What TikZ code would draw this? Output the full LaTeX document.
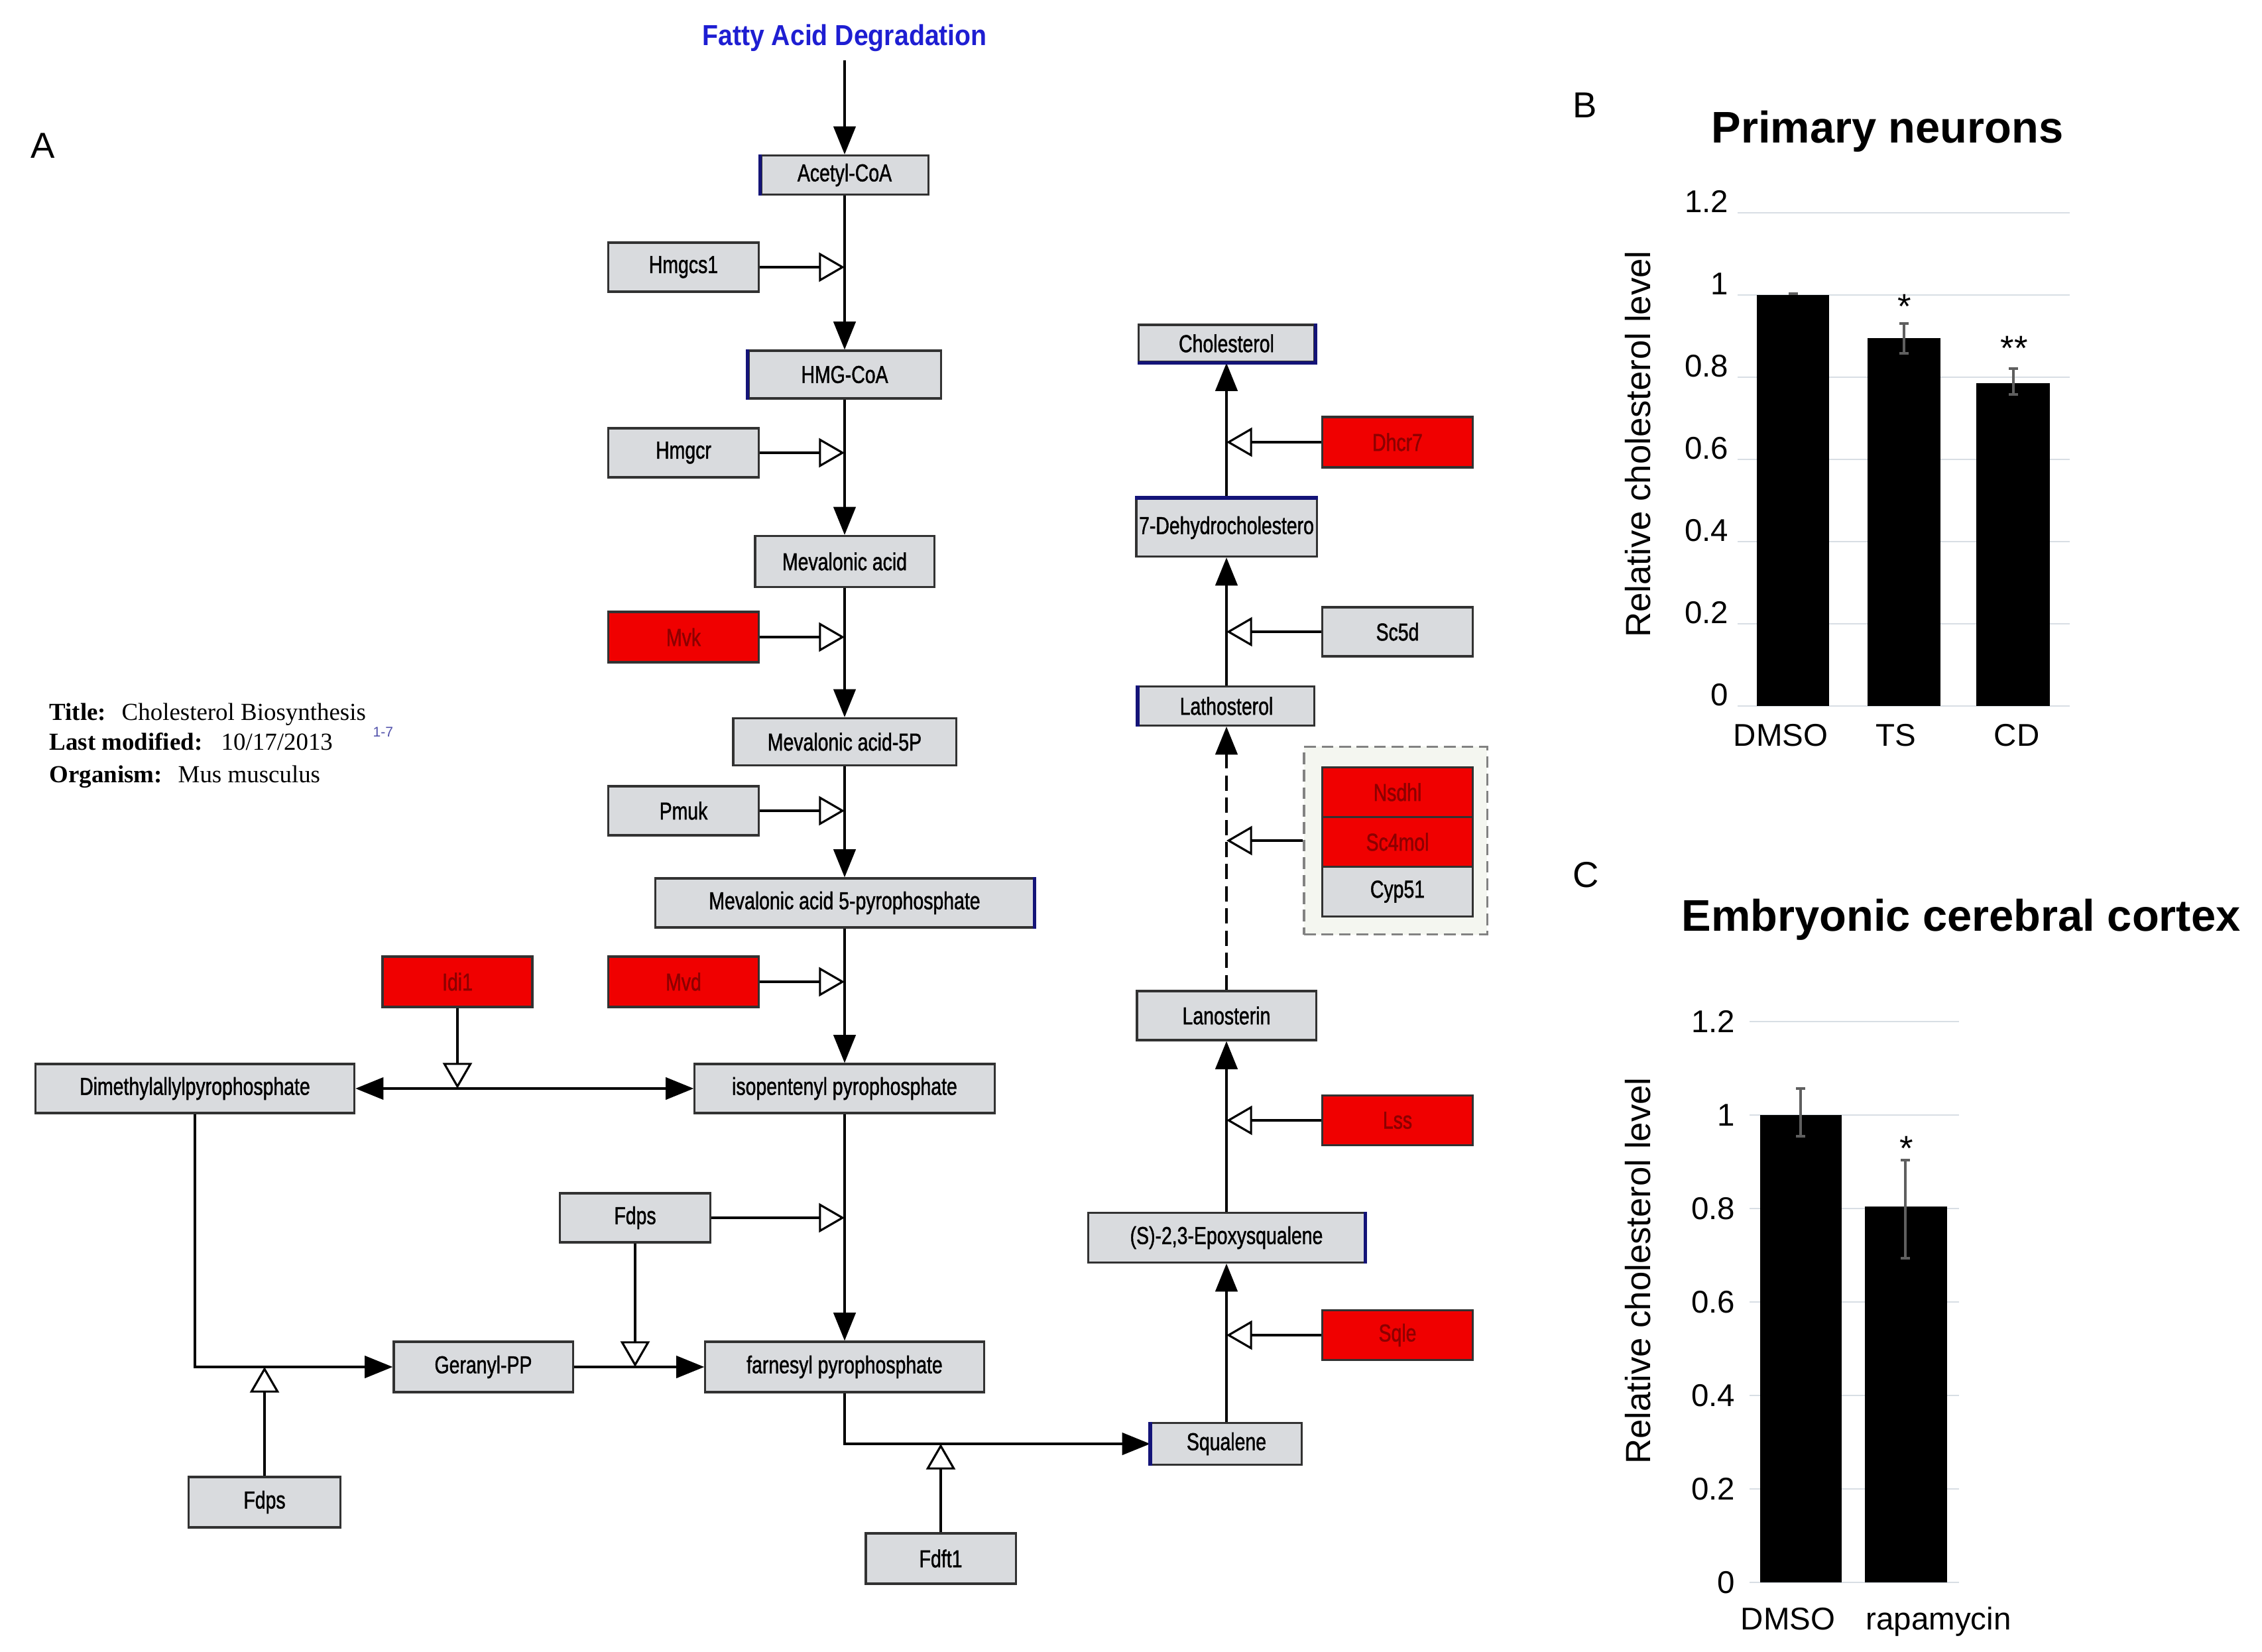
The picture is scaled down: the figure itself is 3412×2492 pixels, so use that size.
\documentclass[tikz,border=0pt]{standalone}
\usepackage{fontspec}
\setmainfont{Liberation Serif}
\setsansfont{Liberation Sans}
\newfontfamily\narrowfont[FakeStretch=0.77,FakeBold=1.2]{Liberation Sans}
\newfontfamily\fadfont[FakeStretch=0.9]{Liberation Sans}
\usetikzlibrary{arrows.meta}
\definecolor{boxfill}{RGB}{217,219,222}
\definecolor{boxline}{RGB}{50,50,50}
\definecolor{redfill}{RGB}{240,0,0}
\definecolor{redtext}{RGB}{140,0,0}
\definecolor{navy}{RGB}{20,20,120}
\definecolor{fadblue}{RGB}{30,30,210}
\definecolor{gridc}{RGB}{216,222,228}
\definecolor{errc}{RGB}{95,95,95}
\definecolor{grpfill}{RGB}{244,246,240}
\definecolor{grpline}{RGB}{130,130,130}
\definecolor{refblue}{RGB}{80,80,170}
\tikzset{
  gbox/.style={draw=boxline, fill=boxfill, line width=0.9pt, inner sep=0pt,
    font=\narrowfont\fontsize{10.5}{12}\selectfont},
  rbox/.style={gbox, fill=redfill, text=redtext},
  sz/.style 2 args={minimum width=#1cm, minimum height=#2cm},
  conn/.style={line width=0.9pt, draw=black},
  fillarr/.style={conn, -{Triangle[length=12pt,width=9.5pt]}},
  bothfill/.style={conn, {Triangle[length=12pt,width=9.5pt]}-{Triangle[length=12pt,width=9.5pt]}},
  openarr/.style={conn, -{Triangle[open,length=11pt,width=12.5pt,fill=white]}},
  blueedge/.style={draw=navy, line width=1.5pt},
  gridln/.style={draw=gridc, line width=0.8pt},
  errbar/.style={draw=errc, line width=1.2pt},
  tb/.style={font=\rmfamily\fontsize{10.5}{12}\selectfont, inner sep=0pt, anchor=base west},
  ticklab/.style={font=\sffamily\fontsize{13.5}{15}\selectfont, inner sep=0pt},
  axlab/.style={font=\sffamily\fontsize{15}{17}\selectfont, inner sep=0pt, rotate=90},
  ctitle/.style={font=\sffamily\bfseries\fontsize{19}{22}\selectfont, inner sep=0pt, anchor=base},
  plet/.style={font=\sffamily\fontsize{15.5}{18}\selectfont, inner sep=0pt, anchor=base west},
  star/.style={font=\sffamily\fontsize{15}{17}\selectfont, inner sep=0pt, anchor=north},
}
\begin{document}
\begin{tikzpicture}[x=0.01cm, y=-0.01cm]
\useasboundingbox (0,0) rectangle (3412,2492);
\fill[white] (0,0) rectangle (3412,2492);

% ---------------- Panel A ----------------
\node[plet] (letA) at (46,239) {A};

\node[font=\fadfont\bfseries\fontsize{12.4}{14}\selectfont, text=fadblue, inner sep=0pt, outer sep=4pt] (fad) at (1274,57) {Fatty Acid Degradation};

% main column
\node[gbox, sz={2.52}{0.59}] (acetyl) at (1274,264) {Acetyl-CoA};
\node[gbox, sz={2.27}{0.74}] (hmgcs1) at (1031,403) {Hmgcs1};
\node[gbox, sz={2.90}{0.72}] (hmgcoa) at (1274,565) {HMG-CoA};
\node[gbox, sz={2.27}{0.74}] (hmgcr) at (1031,683) {Hmgcr};
\node[gbox, sz={2.70}{0.77}] (mev) at (1274,847) {Mevalonic acid};
\node[rbox, sz={2.27}{0.76}] (mvk) at (1031,961) {Mvk};
\node[gbox, sz={3.36}{0.71}] (mev5p) at (1274,1119) {Mevalonic acid-5P};
\node[gbox, sz={2.27}{0.74}] (pmuk) at (1031,1223) {Pmuk};
\node[gbox, sz={5.70}{0.74}] (mev5pp) at (1274,1362) {Mevalonic acid 5-pyrophosphate};
\node[rbox, sz={2.27}{0.76}] (mvd) at (1031,1481) {Mvd};
\node[rbox, sz={2.26}{0.76}] (idi1) at (690,1481) {Idi1};
\node[gbox, sz={4.52}{0.74}] (ipp) at (1274,1642) {isopentenyl pyrophosphate};
\node[gbox, sz={4.81}{0.74}] (dmapp) at (294,1642) {Dimethylallylpyrophosphate};
\node[gbox, sz={2.27}{0.74}] (fdpsA) at (958,1837) {Fdps};
\node[gbox, sz={2.70}{0.76}] (geranyl) at (729,2062) {Geranyl-PP};
\node[gbox, sz={4.20}{0.76}] (farnesyl) at (1274,2062) {farnesyl pyrophosphate};
\node[gbox, sz={2.29}{0.76}] (fdpsB) at (399,2266) {Fdps};
\node[gbox, sz={2.26}{0.76}] (fdft1) at (1419,2351) {Fdft1};

% right column
\node[gbox, sz={2.27}{0.63}] (squalene) at (1850,2178) {Squalene};
\node[rbox, sz={2.27}{0.75}] (sqle) at (2108,2014) {Sqle};
\node[gbox, sz={4.16}{0.75}] (epoxy) at (1850,1867) {(S)-2,3-Epoxysqualene};
\node[rbox, sz={2.27}{0.75}] (lss) at (2108,1690) {Lss};
\node[gbox, sz={2.70}{0.74}] (lano) at (1850,1532) {Lanosterin};
\node[draw=grpline, dashed, dash pattern=on 5pt off 2.5pt, fill=grpfill, line width=0.9pt,
      minimum width=2.76cm, minimum height=2.83cm, inner sep=0pt] (grp) at (2105,1268) {};
\node[rbox, sz={2.27}{0.75}] (nsdhl) at (2108,1195) {Nsdhl};
\node[rbox, sz={2.27}{0.75}] (sc4mol) at (2108,1270) {Sc4mol};
\node[gbox, sz={2.27}{0.75}] (cyp51) at (2108,1345) {Cyp51};
\node[gbox, sz={2.65}{0.59}] (latho) at (1850,1065) {Lathosterol};
\node[gbox, sz={2.27}{0.74}] (sc5d) at (2108,953) {Sc5d};
\node[gbox, sz={2.72}{0.87}] (dhc7) at (1850,796) {\makebox[2.5cm][c]{7-Dehydrocholestero}};
\node[rbox, sz={2.27}{0.76}] (dhcr7) at (2108,667) {Dhcr7};
\node[gbox, sz={2.65}{0.56}] (chol) at (1850,518) {Cholesterol};

\coordinate (mx) at (1274,0);
\coordinate (rx) at (1850,0);

% main column connectors
\draw[fillarr] (fad.south) -- (acetyl.north);
\draw[fillarr] (acetyl.south) -- (hmgcoa.north);
\draw[fillarr] (hmgcoa.south) -- (mev.north);
\draw[fillarr] (mev.south) -- (mev5p.north);
\draw[fillarr] (mev5p.south) -- (mev5pp.north);
\draw[fillarr] (mev5pp.south) -- (ipp.north);
\draw[fillarr] (ipp.south) -- (farnesyl.north);
\draw[openarr] (hmgcs1.east) -- (hmgcs1.east -| mx);
\draw[openarr] (hmgcr.east) -- (hmgcr.east -| mx);
\draw[openarr] (mvk.east) -- (mvk.east -| mx);
\draw[openarr] (pmuk.east) -- (pmuk.east -| mx);
\draw[openarr] (mvd.east) -- (mvd.east -| mx);
\draw[openarr] (fdpsA.east) -- (fdpsA.east -| mx);

\draw[bothfill] (dmapp.east) -- (ipp.west);
\draw[openarr] (idi1.south) -- (idi1.south |- ipp.west);

\draw[fillarr] (dmapp.south) -- (dmapp.south |- geranyl.west) -- (geranyl.west);
\draw[openarr] (fdpsB.north) -- (fdpsB.north |- geranyl.west);
\draw[fillarr] (geranyl.east) -- (farnesyl.west);
\draw[openarr] (fdpsA.south) -- (fdpsA.south |- farnesyl.west);

\draw[fillarr] (farnesyl.south) -- (farnesyl.south |- squalene.west) -- (squalene.west);
\draw[openarr] (fdft1.north) -- (fdft1.north |- squalene.west);

% right column connectors
\draw[fillarr] (squalene.north) -- (epoxy.south);
\draw[fillarr] (epoxy.north) -- (lano.south);
\draw[fillarr, dash pattern=on 6.5pt off 3pt] (lano.north) -- (latho.south);
\draw[fillarr] (latho.north) -- (dhc7.south);
\draw[fillarr] (dhc7.north) -- (chol.south);
\draw[openarr] (sqle.west) -- (sqle.west -| rx);
\draw[openarr] (lss.west) -- (lss.west -| rx);
\draw[openarr] (grp.west) -- (grp.west -| rx);
\draw[openarr] (sc5d.west) -- (sc5d.west -| rx);
\draw[openarr] (dhcr7.west) -- (dhcr7.west -| rx);

% blue edges
\draw[blueedge] (acetyl.north west) -- (acetyl.south west);
\draw[blueedge] (hmgcoa.north west) -- (hmgcoa.south west);
\draw[blueedge] (mev5pp.north east) -- (mev5pp.south east);
\draw[blueedge] (chol.north east) -- (chol.south east) -- (chol.south west);
\draw[blueedge] (dhc7.north west) -- (dhc7.north east);
\draw[blueedge] (latho.north west) -- (latho.south west);
\draw[blueedge] (epoxy.north east) -- (epoxy.south east);
\draw[blueedge] (squalene.north west) -- (squalene.south west);

% title block
\node[tb] (t1) at (74,1087) {\bfseries Title:};
\node[tb] (t1v) at (183,1087) {Cholesterol Biosynthesis};
\node[tb] (t2) at (74,1132) {\bfseries Last modified:};
\node[tb] (t2v) at (333,1132) {10/17/2013};
\node[tb] (t3) at (74,1181) {\bfseries Organism:};
\node[tb] (t3v) at (268,1181) {Mus musculus};
\node[tb, font=\sffamily\fontsize{6}{7}\selectfont, text=refblue] (ref) at (562,1112) {1-7};

% ---------------- Panel B ----------------
\node[plet] (letB) at (2372,178) {B};
\node[ctitle] (titB) at (2847,216) {Primary neurons};
\foreach \v/\t in {0/0,0.2/0.2,0.4/0.4,0.6/0.6,0.8/0.8,1/1,1.2/1.2}{
  \draw[gridln] (2621,{1065-\v*620}) -- (3122,{1065-\v*620});
  \node[ticklab, anchor=base east] (tkB\t) at (2608,{1065-\v*620}) {\t};
}
\fill[black] (2650,1065) rectangle (2759,445);
\fill[black] (2817,1065) rectangle (2927,510);
\fill[black] (2981,1065) rectangle (3092,578);
\draw[errbar] (2698,443) -- (2712,443);
\draw[errbar] (2872,533) -- (2872,488) (2865,533) -- (2879,533) (2865,488) -- (2879,488);
\draw[errbar] (3037,595) -- (3037,556) (3030,595) -- (3044,595) (3030,556) -- (3044,556);
\node[star] (sB1) at (2873,444) {*};
\node[star] (sB2) at (3038,507) {**};
\node[ticklab, anchor=base] (xB1) at (2686,1126) {DMSO};
\node[ticklab, anchor=base] (xB2) at (2860,1126) {TS};
\node[ticklab, anchor=base] (xB3) at (3042,1126) {CD};
\node[axlab] (yB) at (2471,670) {Relative cholesterol level};

% ---------------- Panel C ----------------
\node[plet] (letC) at (2372,1338) {C};
\node[ctitle] (titC) at (2958,1404) {Embryonic cerebral cortex};
\foreach \v/\t in {0/0,0.2/0.2,0.4/0.4,0.6/0.6,0.8/0.8,1/1,1.2/1.2}{
  \draw[gridln] (2639,{2387-\v*705}) -- (2955,{2387-\v*705});
  \node[ticklab, anchor=east] (tkC\t) at (2618,{2387-\v*705}) {\t};
}
\fill[black] (2655,2387) rectangle (2778,1682);
\fill[black] (2813,2387) rectangle (2937,1820);
\draw[errbar] (2716,1714) -- (2716,1642) (2709,1642) -- (2723,1642) (2709,1714) -- (2723,1714);
\draw[errbar] (2874,1898) -- (2874,1750) (2867,1750) -- (2881,1750) (2867,1898) -- (2881,1898);
\node[star] (sC1) at (2876,1713) {*};
\node[ticklab, anchor=base] (xC1) at (2697,2458) {DMSO};
\node[ticklab, anchor=base] (xC2) at (2924,2458) {rapamycin};
\node[axlab] (yC) at (2471,1917) {Relative cholesterol level};
\end{tikzpicture}
\end{document}
